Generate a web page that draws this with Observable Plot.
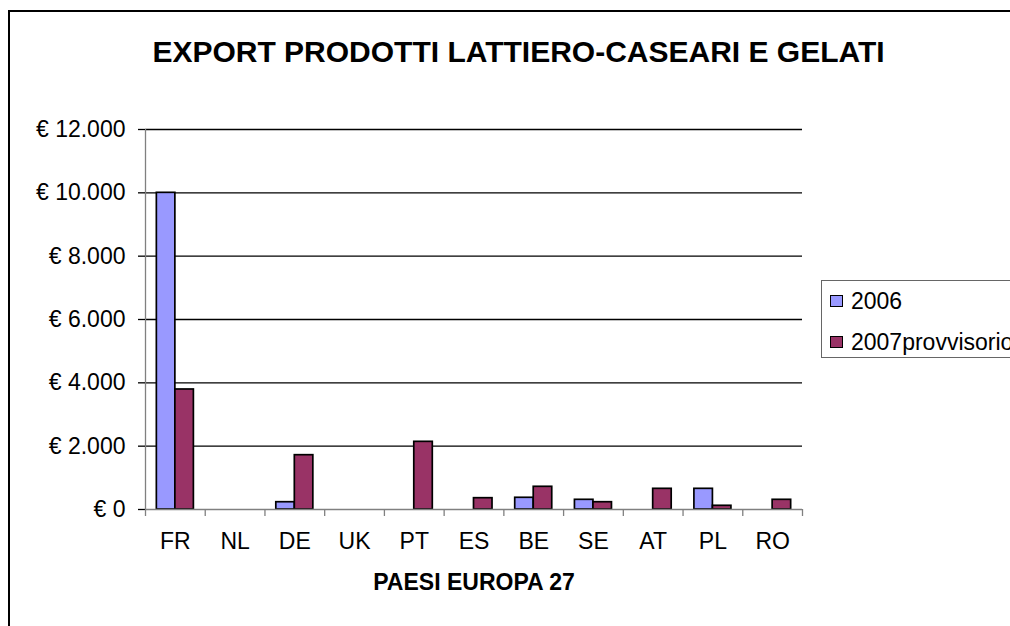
<!DOCTYPE html>
<html>
<head>
<meta charset="utf-8">
<script src="https://cdn.jsdelivr.net/npm/d3@7"></script>
<script src="https://cdn.jsdelivr.net/npm/@observablehq/plot@0.6"></script>
<style>
  html, body { margin: 0; padding: 0; width: 1010px; height: 626px; overflow: hidden; background: #fff; font-family: "Liberation Sans", Arial, sans-serif; }
  #frame { position: absolute; left: 8px; top: 10px; width: 1100px; height: 700px; border: 2px solid #000; box-sizing: border-box; background: transparent; pointer-events: none; z-index: 5; }
  #title { position: absolute; left: 0; top: 35px; width: 1037px; text-align: center; font-weight: bold; font-size: 30px; line-height: 34px; color: #000; }
  #chart { position: absolute; left: 0; top: 100px; }
  #legend { position: absolute; left: 821px; top: 280px; width: 260px; height: 78px; border: 1px solid #666; box-sizing: border-box; background: #fff; }
  .item { position: absolute; left: 8px; height: 24px; display: flex; align-items: center; font-size: 23px; color: #000; white-space: nowrap; }
  .sw { width: 11px; height: 10px; border: 1px solid #000; margin-right: 8px; }
</style>
</head>
<body>
<div id="title">EXPORT PRODOTTI LATTIERO-CASEARI E GELATI</div>
<div id="chart"></div>
<div id="legend"></div>
<div id="frame"></div>
<script>
const countries = ["FR", "NL", "DE", "UK", "PT", "ES", "BE", "SE", "AT", "PL", "RO"];
const series = ["2006", "2007provvisorio"];
const values2006 = [10000, 0, 230, 0, 0, 0, 370, 306, 0, 653, 0];
const values2007 = [3790, 0, 1715, 0, 2137, 357, 717, 230, 653, 117, 306];
const colors = ["#9999FF", "#993366"];
const yTicks = [0, 2000, 4000, 6000, 8000, 10000, 12000];
const xTitle = "PAESI EUROPA 27";

const rows = [];
countries.forEach((c, i) => {
  [values2006, values2007].forEach((vals, s) => {
    if (vals[i] > 0) rows.push({country: c, series: series[s], i, s, value: vals[i]});
  });
});

const fmt = d => "€ " + d3.format(",")(d).replace(/,/g, ".");

const chart = Plot.plot({
  width: 1010,
  height: 526,
  marginLeft: 145,
  marginRight: 208,
  marginTop: 29,
  marginBottom: 117,
  style: {fontFamily: "'Liberation Sans', Arial, sans-serif", background: "transparent", color: "#000"},
  x: {type: "linear", domain: [0, countries.length]},
  y: {domain: [0, 12000]},
  color: {domain: series, range: colors},
  marks: [
    Plot.ruleY(yTicks.filter(d => d > 0), {x1: 0, x2: countries.length, stroke: "#000", strokeWidth: 1.3}),
    Plot.rectY(rows, {
      x1: d => d.i + 0.19 + d.s * 0.31,
      x2: d => d.i + 0.5 + d.s * 0.31,
      y1: 0,
      y2: "value",
      fill: "series",
      stroke: "#000",
      strokeWidth: 1.7
    }),
    Plot.ruleX([0], {y1: 0, y2: 12000, stroke: "#808080", strokeWidth: 1.3}),
    Plot.ruleY([0], {x1: 0, x2: countries.length, stroke: "#808080", strokeWidth: 1.3}),
    Plot.axisY({ticks: yTicks, tickSize: 7, tickPadding: 13, tickFormat: fmt, fontSize: 23, label: null, stroke: "#000", strokeWidth: 1.3}),
    Plot.axisX({ticks: d3.range(countries.length + 1), tickSize: 7, tickFormat: () => "", label: null, stroke: "#808080", strokeWidth: 1.3}),
    Plot.axisX({ticks: countries.map((c, i) => i + 0.5), tickSize: 0, tickPadding: 23, tickFormat: v => countries[Math.floor(v)], fontSize: 23, label: null}),
    Plot.text([xTitle], {frameAnchor: "bottom", dy: 80, fontSize: 23, fontWeight: "bold", fill: "#000"})
  ]
});
document.getElementById("chart").appendChild(chart);

const legend = document.getElementById("legend");
series.forEach((s, k) => {
  const item = document.createElement("div");
  item.className = "item";
  item.style.top = (k === 0 ? 8 : 49) + "px";
  const sw = document.createElement("div");
  sw.className = "sw";
  sw.style.background = colors[k];
  item.appendChild(sw);
  item.appendChild(document.createTextNode(s));
  legend.appendChild(item);
});
</script>
</body>
</html>
